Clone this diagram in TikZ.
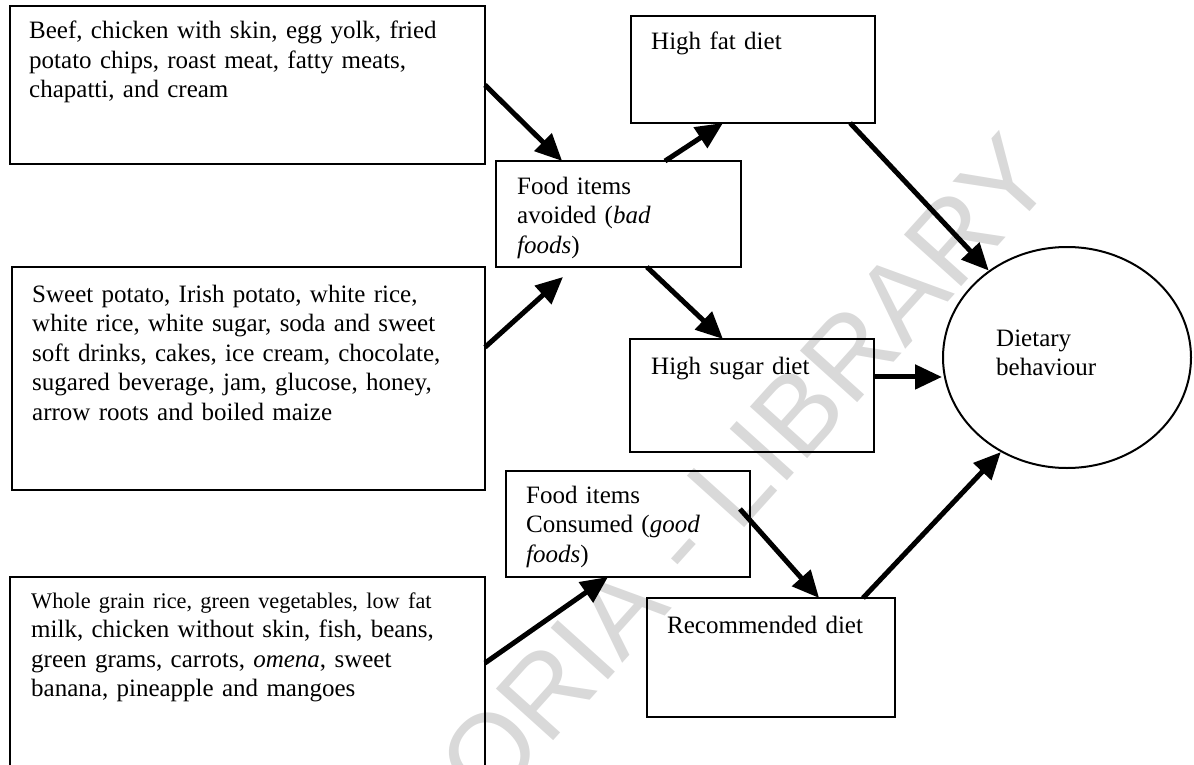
\documentclass[tikz,border=0pt]{standalone}
\usepackage{fontspec}
\setmainfont{Liberation Serif}
\newfontfamily\markfont{Liberation Sans}
\usetikzlibrary{arrows.meta,calc,shapes.geometric}
\definecolor{markgray}{RGB}{217,217,217}
\begin{document}
\begin{tikzpicture}[x=1pt,y=-1pt,
  box/.style={draw,line width=2.6pt,rectangle,anchor=north west,inner sep=0pt,outer sep=0pt},
  label/.style={anchor=base west,inner sep=0pt,text width=470pt,align=left,
    font=\fontsize{25}{29.5}\selectfont},
  link/.style={line width=5pt,-{Triangle[length=27pt,width=24pt]}}]
\useasboundingbox (0,0) rectangle (1194,765);
\clip (0,0) rectangle (1194,765);
% watermark
\node[markgray,font=\markfont\fontsize{112}{112}\selectfont,rotate=48,inner sep=0pt]
  (mark) at (745,470) {ORIA - LIBRARY};
% boxes
\node[box,minimum width=475pt,minimum height=158pt] (fatsrc) at (10,6) {};
\node[box,minimum width=473pt,minimum height=223pt] (sugarsrc) at (12,267) {};
\node[box,minimum width=475pt,minimum height=220pt] (goodsrc) at (10,577) {};
\node[box,minimum width=245pt,minimum height=106pt] (avoided) at (496,161) {};
\node[box,minimum width=244pt,minimum height=106pt] (consumed) at (506,471) {};
\node[box,minimum width=244pt,minimum height=107pt] (highfat) at (631,16) {};
\node[box,minimum width=244pt,minimum height=113pt] (highsugar) at (630,339) {};
\node[box,minimum width=248pt,minimum height=119pt] (recommended) at (647,598) {};
\node[draw,ellipse,line width=2pt,minimum width=248pt,minimum height=221pt,inner sep=0pt] (dietary) at (1067,357.5) {};
% texts
\node[label] (fatsrc-t) at (29,39) {Beef, chicken with skin, egg yolk, fried\\potato chips, roast meat, fatty meats,\\chapatti, and cream};
\node[label] (sugarsrc-t) at (32,302) {Sweet potato, Irish potato, white rice,\\white rice, white sugar, soda and sweet\\soft drinks, cakes, ice cream, chocolate,\\sugared beverage, jam, glucose, honey,\\arrow roots and boiled maize};
\node[label] (goodsrc-t) at (31,608) {{\fontsize{22.3}{29.5}\selectfont Whole grain rice, green vegetables, low fat}\\milk, chicken without skin, fish, beans,\\green grams, carrots, \textit{omena}, sweet\\banana, pineapple and mangoes};
\node[label] (avoided-t) at (517,194) {Food items\\avoided (\textit{bad}\\\textit{foods})};
\node[label] (consumed-t) at (526,503) {Food items\\Consumed (\textit{good}\\\textit{foods})};
\node[label] (highfat-t) at (651,50) {High fat diet};
\node[label] (highsugar-t) at (651,374) {High sugar diet};
\node[label] (recommended-t) at (667,633) {Recommended diet};
\node[label,text width=150pt] (dietary-t) at (996,346) {Dietary\\behaviour};
% connectors
\draw[link] (fatsrc.east) -- ($(avoided.north west)!0.27!(avoided.north east)$);
\coordinate (sugarend) at ($(avoided.south west)+(67,10)$);
\draw[link] ($(sugarsrc.north east)!0.36!(sugarsrc.south east)$) -- (sugarend);
\draw[link] ($(avoided.north west)!0.69!(avoided.north east)$) -- ($(highfat.south west)!0.377!(highfat.south east)$);
\draw[link] ($(avoided.south west)!0.616!(avoided.south east)$) -- ($(highsugar.north west)!0.381!(highsugar.north east)$);
\draw[link] ($(highfat.south west)!0.898!(highfat.south east)$) -- (dietary.132);
\coordinate (hsout) at ($(highsugar.north east)!0.336!(highsugar.south east)$);
\draw[link] (hsout) -- (hsout -| dietary.west);
\draw[link] ($(recommended.north west)!0.871!(recommended.north east)$) -- (dietary.235.6);
\draw[link] ($(goodsrc.north east)+(0,86)$) -- ($(consumed.south west)!0.418!(consumed.south east)$);
\draw[link] ($(consumed.north east)+(-10,38)$) -- ($(recommended.north west)!0.694!(recommended.north east)$);
\end{tikzpicture}
\end{document}
